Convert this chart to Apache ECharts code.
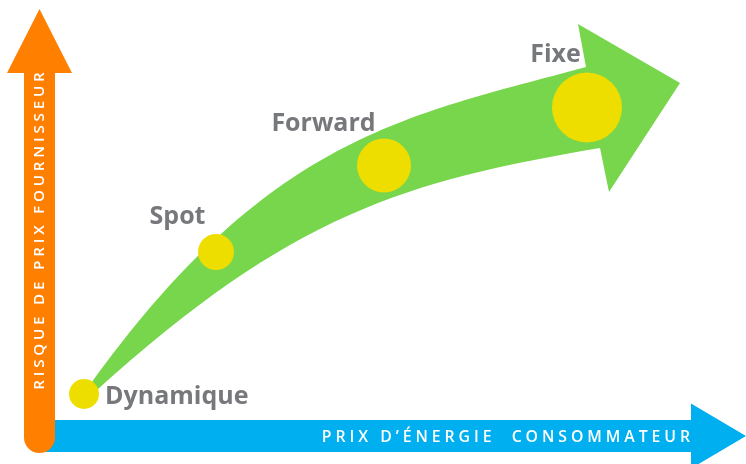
<!DOCTYPE html>
<html>
<head>
<meta charset="utf-8">
<script src="https://cdn.jsdelivr.net/npm/echarts@6/dist/echarts.min.js"></script>
<style>
  html, body { margin: 0; padding: 0; background: #fff; }
  #chart { width: 746px; height: 464px; }
</style>
</head>
<body>
<div id="chart"></div>
<script>
// offres de prix
const offres = ['Dynamique', 'Spot', 'Forward', 'Fixe'];
const prixEnergie = [84, 216, 384, 587];
const risquePrix = [70, 212, 298.5, 356.5];
const poids = [30, 36, 54, 70];

// textes des axes
const nomAxeX = "PRIX D’ÉNERGIE  CONSOMMATEUR";
const nomAxeY = 'RISQUE DE PRIX FOURNISSEUR';

// formes des fleches (en unites du repere)
const flecheX = { corps: [[38, 12], [692, 44]], tete: [[691, 60.5], [746, 28], [691, -4.5]], texte: [506, 27], taille: 15.8 };
const flecheY = { corps: [[24, 11], [55, 391]], tete: [[7, 391], [39.5, 455], [72, 391]], texte: [40, 233], taille: 15.2 };
const courbeHaut = [[88, 76], [268, 328], [406, 348], [586, 397]];
const pointeVerte = [[578, 440], [680, 381], [609, 272], [600, 316]];
const courbeBas = [[600, 316], [405, 283], [292, 250], [97, 74]];

// decalage des etiquettes
const decalages = [[0, 3], [-38.5, -35], [-60.5, -42], [-31.5, -52.5]];

const spaced = (s) => s.split('').join('\u2005');

function flecheDroite(f, couleur, texte, vertical) {
  return function (params, api) {
    const a = api.coord(f.corps[0]);
    const b = api.coord(f.corps[1]);
    const x = Math.min(a[0], b[0]), y = Math.min(a[1], b[1]);
    const w = Math.abs(b[0] - a[0]), h = Math.abs(b[1] - a[1]);
    const r = vertical ? [0, 0, w / 2, w / 2] : 0;
    const t = api.coord(f.texte);
    return {
      type: 'group',
      children: [
        { type: 'rect', shape: { x: x, y: y, width: w, height: h, r: r }, style: { fill: couleur } },
        { type: 'polygon', shape: { points: f.tete.map((p) => api.coord(p)) }, style: { fill: couleur } },
        {
          type: 'text', x: t[0], y: t[1], rotation: vertical ? Math.PI / 2 : 0,
          style: {
            text: spaced(texte), fill: '#fff', fontFamily: 'Open Sans', fontWeight: 600,
            fontSize: f.taille, align: 'center', verticalAlign: 'middle'
          }
        }
      ]
    };
  };
}

function flecheCourbe(params, api) {
  const u = courbeHaut.map((p) => api.coord(p));
  const h = pointeVerte.map((p) => api.coord(p));
  const l = courbeBas.map((p) => api.coord(p));
  const d = 'M' + u[0] + ' C' + u[1] + ' ' + u[2] + ' ' + u[3] +
    ' L' + h[0] + ' L' + h[1] + ' L' + h[2] + ' L' + h[3] +
    ' C' + l[1] + ' ' + l[2] + ' ' + l[3] + ' Z';
  return { type: 'path', shape: { pathData: d }, style: { fill: '#77D64C' } };
}

const chart = echarts.init(document.getElementById('chart'));
chart.setOption({
  animation: false,
  grid: { left: 0, right: 0, top: 0, bottom: 0 },
  xAxis: { type: 'value', min: 0, max: 746, show: false },
  yAxis: { type: 'value', min: 0, max: 464, show: false },
  series: [
    { type: 'custom', data: [0], renderItem: flecheDroite(flecheX, '#00AFEF', nomAxeX, false), silent: true },
    { type: 'custom', data: [0], renderItem: flecheDroite(flecheY, '#FF7F00', nomAxeY, true), silent: true },
    { type: 'custom', data: [0], renderItem: flecheCourbe, silent: true },
    {
      type: 'scatter',
      symbolSize: (v) => v[2],
      itemStyle: { color: '#EEDE00', opacity: 1 },
      data: offres.map((nom, i) => ({
        name: nom,
        value: [prixEnergie[i], risquePrix[i], poids[i]],
        label: i === 0
          ? { position: 'right', distance: 6, offset: decalages[i] }
          : { position: 'inside', offset: decalages[i] }
      })),
      label: {
        show: true,
        formatter: '{b}',
        color: '#76787B',
        fontFamily: 'Open Sans',
        fontWeight: 'bold',
        fontSize: 25
      }
    }
  ]
});
</script>
</body>
</html>
